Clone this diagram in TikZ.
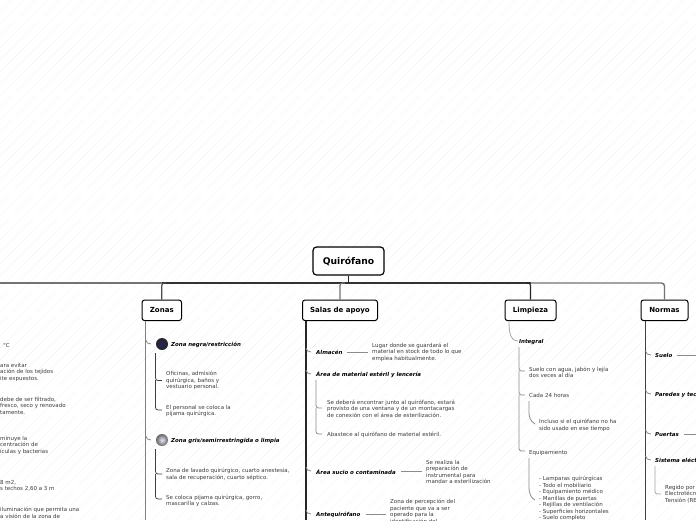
\documentclass[tikz,border=0pt]{standalone}
\usepackage{fontspec}
\setmainfont{DejaVu Sans}
\definecolor{txt}{HTML}{3C3C3C}
\definecolor{hatch}{HTML}{EEEEEE}
\tikzset{
  x=1pt,y=-1pt,
  topic/.style={draw=black,line width=1pt,rounded corners=2.5pt,fill=white,font=\bfseries\fontsize{7}{8}\selectfont,text=black,inner sep=0pt,align=center},
  rootbox/.style={topic,line width=1.2pt,rounded corners=3.5pt,font=\bfseries\fontsize{9.2}{10}\selectfont},
  head/.style={anchor=west,inner sep=0pt,yshift=-0.7pt,font=\bfseries\itshape\fontsize{5.45}{6}\selectfont,text=black},
  body/.style={anchor=west,inner sep=0pt,yshift=-0.7pt,align=left,font=\fontsize{5.5}{6.5}\selectfont,text=txt},
  link/.style={line width=1.2pt,color=#1,rounded corners=2.5pt},
  link/.default=black!65,
  thin link/.style={line width=0.8pt,color=#1,rounded corners=2.5pt},
  thin link/.default=black!60
}
\begin{document}
\begin{tikzpicture}
\useasboundingbox (0,0) rectangle (696,520);
\clip (0,0) rectangle (696,520);
\fill[white] (0,0) rectangle (696,520);
% faint background hatch
\foreach \c in {-520,-508,...,696}{
  \draw[hatch,line width=0.4pt,dash pattern=on 0.6pt off 0.8pt] (\c,520) -- (\c+520,0);
}
% root and topics
\node[rootbox,minimum width=71pt,minimum height=28pt] (root) at (348.5,261) {Quirófano};
\node[topic,minimum width=39.5pt,minimum height=20.5pt] (zonas) at (161.8,310.3) {Zonas};
\node[topic,minimum width=75pt,minimum height=20.5pt] (salas) at (340,310.3) {Salas de apoyo};
\node[topic,minimum width=51pt,minimum height=20.5pt] (limpieza) at (530.5,310.3) {Limpieza};
\node[topic,minimum width=47pt,minimum height=20.5pt] (normas) at (664.5,310.3) {Normas};
\coordinate (bus) at (348.5,283);
\coordinate (lend) at (0,283);
% main bus
\draw[line width=1.4pt,black!55] (lend) -- (162,283);
\draw[line width=1.4pt,black!80] (162,283) -- (bus) -- (530.5,283);
\draw[line width=1.4pt,black!55,rounded corners=3pt] (530.5,283) -| (normas.north);
\draw[line width=1.6pt,black!85] (root.south) -- (bus);
\draw[link=black!70] (166,283) -| (zonas.north);
\draw[link=black!55] (345,283) -| (salas.north);
\draw[link=black!85] (526,283) -| (limpieza.north);
% Zonas branch
\coordinate (zt) at (145.8,320.5); \coordinate (zb) at (145.8,520);
\draw[link=black!50] (zt) -- (zb);
\node[circle,inner sep=0pt,minimum size=12pt,shading=radial,inner color=black!75!blue!85,outer color=black!85] (zn) at (162,344) {};
\node[circle,inner sep=0pt,minimum size=12pt,shading=radial,inner color=black!35!blue!10,outer color=black!60] (zg) at (162,440) {};
\node[head] (zna) at (171,344) {Zona negra/restricción};
\node[head] (zgr) at (171,440) {Zona gris/semirrestringida o limpia};
\draw[thin link=black!45] (145.8,340) to[out=-90,in=180] (151,344);
\draw[thin link=black!45] (145.8,436) to[out=-90,in=180] (151,440);
\node[body] (z1) at (166,380) {Oficinas, admisión\\quirúrgica, baños y\\vestuario personal.};
\node[body] (z2) at (166,410.5) {El personal se coloca la\\pijama quirúrgica.};
\node[body] (z3) at (166,473.7) {Zona de lavado quirúrgico, cuarto anestesia,\\sala de recuperación, cuarto séptico.};
\node[body] (z4) at (166,500) {Se coloca pijama quirúrgica, gorro,\\mascarilla y calzas.};
\draw[thin link=black!75] (155.5,353) |- (162,380.5);
\draw[thin link=black!75] (155.5,380) |- (162,410);
\draw[thin link=black!75] (155.5,449) |- (162,474);
\draw[thin link=black!75] (155.5,474) |- (162,499);
% left clipped column
\node[body] (l1) at (3,345) {°C};
\node[body] (l2) at (0,371.5) {ara evitar\\ación de los tejidos\\ite expuestos.};
\node[body] (l3) at (0,405) {debe de ser filtrado,\\fresco, seco y renovado\\tamente.};
\node[body] (l4) at (0,444.5) {minuye la\\centración de\\ículas y bacterias};
\node[body] (l5) at (0,485) {8 m2,\\s techos 2,60 a 3 m};
\node[body] (l6) at (0,512) {iluminación que permita una\\a visión de la zona de};
% Salas branch
\draw[link=black!85] (306,320.5) -- (306,520);
\foreach \yy/\nm in {352/a,374/b,471/c,514/d}{
  \draw[thin link=black!45] (306,\yy-4) to[out=-90,in=180] (311,\yy);
}
\node[head] (almacen) at (316,352) {Almacén};
\node[head] (material) at (316,374) {Área de material estéril y lencería};
\node[head] (sucio) at (316,471) {Área sucio o contaminada};
\node[head] (ante) at (316,514) {Antequirófano};
\node[body] (s1) at (372,351.5) {Lugar donde se guardará el\\material en stock de todo lo que\\emplea habitualmente.};
\node[body] (s2) at (327,407.7) {Se deberá encontrar junto al quirófano, estará\\provisto de una ventana y de un montacargas\\de conexión con el área de esterilización.};
\node[body] (s3) at (327,434) {Abastece al quirófano de material estéril.};
\node[body] (s4) at (426,471) {Se realiza la\\preparación de\\instrumental para\\mandar a esterilización};
\node[body] (s5) at (390,510.5) {Zona de percepción del\\paciente que va a ser\\operado para la\\identificación del};
\draw[thin link=black!45] (347,352) -- (368,352);
\draw[thin link=black!45] (401,471) -- (422,471);
\draw[thin link=black!45] (366,514) -- (386,514);
\draw[thin link=black!45] (316,380) |- (322,408);
\draw[thin link=black!45] (316,408) |- (322,434);
% Limpieza branch
\draw[thin link=black!35] (509,320.5) to[out=-90,in=180] (518,341);
\node[head] (integral) at (519,341) {Integral};
\draw[thin link=black!45] (519,347) |- (525,371);
\draw[thin link=black!45] (519,371) |- (525,395);
\draw[thin link=black!45] (519,395) |- (525,451);
\node[body] (p1) at (529,371.5) {Suelo con agua, jabón y lejía\\dos veces al día};
\node[body] (p2) at (529,395) {Cada 24 horas};
\node[body] (p3) at (539,424.5) {Incluso si el quirófano no ha\\sido usado en ese tiempo};
\node[body] (p4) at (529,452) {Equipamiento};
\node[body] (p5) at (539,497.7) {- Lamparas quirúrgicas\\- Todo el mobiliario\\- Equipamiento médico\\- Manillas de puertas\\- Rejillas de ventilación\\- Superficies horizontales\\- Suelo completo};
\draw[thin link=black!45] (529,401) -- (529,410) to[out=-90,in=150] (535,424);
\draw[thin link=black!45] (529,458) -- (529,480) to[out=-90,in=150] (535,500);
% Normas branch
\draw[link=black!75] (645.5,320.5) -- (645.5,520);
\foreach \yy in {355,394,434,460}{
  \draw[thin link=black!45] (645.5,\yy-4) to[out=-90,in=180] (651,\yy);
}
\node[head] (suelo) at (655,355) {Suelo};
\node[head] (paredes) at (655,394) {Paredes y techos};
\node[head] (puertas) at (655,434) {Puertas};
\node[head] (sistema) at (655,460) {Sistema eléctrico};
\coordinate (re1) at (696,355); \coordinate (re2) at (696,434);
\draw[thin link=black!45] (677,355) -- (re1);
\draw[thin link=black!45] (684,434) -- (re2);
\draw[thin link=black!35] (655,466) |- (661,494);
\node[body] (n1) at (665,493.5) {Regido por el\\Electrotécnico\\Tensión (REBT)};
\end{tikzpicture}
\end{document}
